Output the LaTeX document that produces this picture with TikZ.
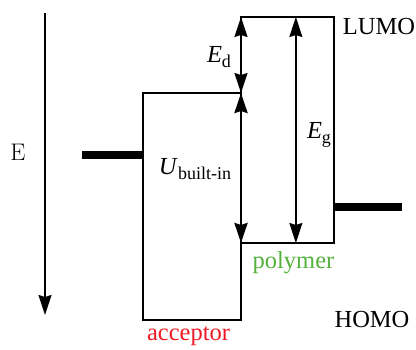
\documentclass[tikz,border=0pt]{standalone}
\usepackage{fontspec}
\setmainfont{Liberation Serif}
\newfontfamily\cmfont{Latin Modern Roman}
\usetikzlibrary{arrows.meta,calc}
\definecolor{accred}{RGB}{237,28,36}
\definecolor{polgreen}{RGB}{84,178,60}
\newcommand{\mysub}[1]{\raisebox{-0.22em}{\fontsize{18}{20}\selectfont #1}}
\begin{document}
\begin{tikzpicture}[x=1pt,y=-1pt,
  level/.style={draw=black,line width=1.8pt,inner sep=0pt,outer sep=0pt,anchor=north west},
  bar/.style={line width=8pt},
  tip/.tip={Stealth[length=20pt,width=13pt,inset=2pt]},
  dim/.style={line width=1.6pt,tip-tip},
  lbl/.style={font=\fontsize{24.5}{27}\selectfont,inner sep=0pt}]
\useasboundingbox (0,0) rectangle (416,350);
\node[level,minimum width=98pt,minimum height=227pt] (acc) at (143,93) {};
\node[level,minimum width=93pt,minimum height=226pt] (pol) at (241,17) {};
% energy axis
\coordinate (et) at (45,13);
\coordinate (eb) at (45,315);
\draw[line width=1.8pt,-tip] (et) -- (eb);
\node[lbl,font=\cmfont\fontsize{24}{27}\selectfont] (E) at (18,152) {E};
% thick bars
\coordinate (lb) at (82,155);
\draw[bar] (lb) -- (lb -| acc.west);
\coordinate (rb) at (402,207);
\draw[bar] (rb) -- (rb -| pol.east);
% arrows
\draw[dim] (pol.north west) -- (acc.north east);
\draw[dim,line width=2.6pt] (acc.north east) -- (pol.south west);
\coordinate (gt) at ($(pol.north west)!0.59!(pol.north east)$);
\coordinate (gb) at ($(pol.south west)!0.59!(pol.south east)$);
\draw[dim] (gt) -- (gb);
% labels
\node[lbl] (Ed) at (219,57) {\textit{E}\mysub{d}};
\node[lbl] (Ub) at (195,169) {\textit{U}\mysub{built-in}};
\node[lbl] (Eg) at (319,135) {\textit{E}\mysub{g}};
\node[lbl] (lumo) at (379,27) {LUMO};
\node[lbl] (homo) at (372,320) {HOMO};
\node[lbl,text=polgreen] (polt) at (293.5,263) {polymer};
\node[lbl,text=accred] (acct) at (188.5,336) {acceptor};
\end{tikzpicture}
\end{document}
